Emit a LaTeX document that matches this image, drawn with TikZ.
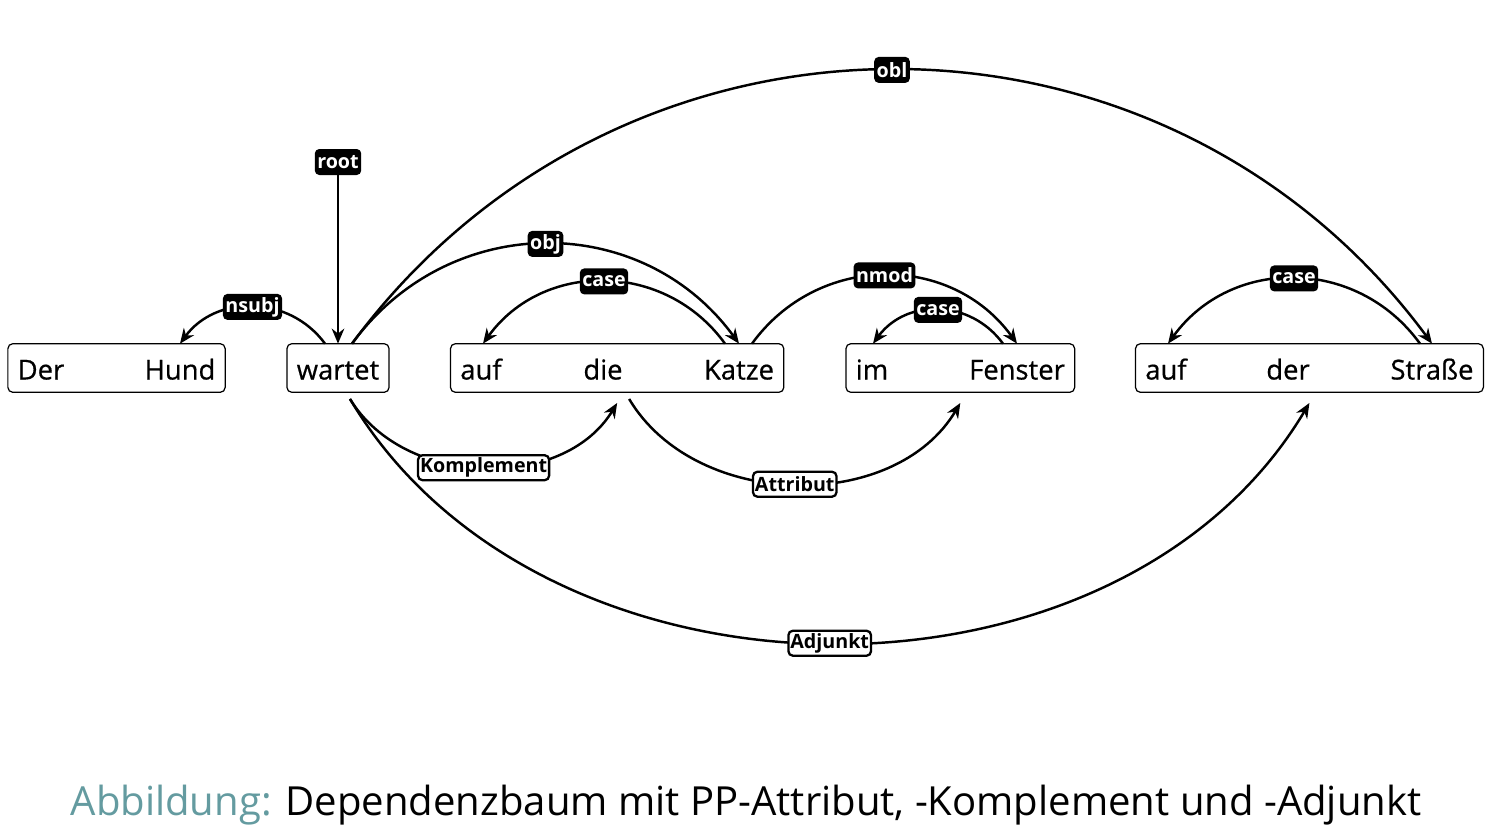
\documentclass[tikz,border=0pt]{standalone}
\usepackage{fontspec}
\setmainfont{Open Sans}
\newfontfamily\wordfont[FakeBold=0.6]{Open Sans}
\usetikzlibrary{arrows.meta, positioning, fit, calc}
\definecolor{abbcol}{RGB}{100,155,160}

\begin{document}
\begin{tikzpicture}[
    x=0.02cm, y=-0.02cm,
    word/.style={minimum height=0.96cm, inner xsep=0.19cm, inner ysep=0pt, text height=0.46cm, text depth=0pt, font=\wordfont\fontsize{15.6}{18}\selectfont},
    phrase/.style={draw, line width=0.7pt, rounded corners=0.1cm, inner sep=0pt},
    dep/.style={-{Stealth[length=0.3cm, width=0.25cm]}, line width=1.4pt},
    rel/.style={fill=black, text=white, rounded corners=0.09cm, inner xsep=0.05cm, inner ysep=0pt, minimum height=0.52cm, font=\fontsize{11.2}{12}\selectfont\bfseries},
    fn/.style={fill=white, draw, line width=1.3pt, rounded corners=0.09cm, inner xsep=0.04cm, inner ysep=0pt, minimum height=0.5cm, font=\fontsize{11.2}{12}\selectfont\bfseries}
  ]
  \useasboundingbox (0,0) rectangle (1497,839);
  % Woerter
  \node[word] (der) at (41,368) {Der};
  \node[word] (hund) at (180,368) {Hund};
  \node[word] (wartet) at (338,368) {wartet};
  \node[word] (auf1) at (481,368) {auf};
  \node[word] (die) at (603,368) {die};
  \node[word] (katze) at (739,368) {Katze};
  \node[word] (im) at (872,368) {im};
  \node[word] (fenster) at (1017,368) {Fenster};
  \node[word] (auf2) at (1166,368) {auf};
  \node[word] (der2) at (1288,368) {der};
  \node[word] (strasse) at (1432,368) {Straße};
  % Phrasen
  \node[phrase, fit=(der)(hund)] (np) {};
  \node[phrase, fit=(wartet)] (vp) {};
  \node[phrase, fit=(auf1)(katze)] (ppa) {};
  \node[phrase, fit=(im)(fenster)] (ppb) {};
  \node[phrase, fit=(auf2)(strasse)] (ppc) {};
  % Dependenzen oben
  \node[rel] (root) at (338,162) {root};
  \draw[dep] (root) -- (wartet.north);
  \draw[dep] ($(wartet.north)+(-13,0)$) .. controls +(-36,-49) and +(36,-49) .. (hund.north)
    node[pos=0.5, rel]{nsubj};
  \draw[dep] ($(wartet.north)+(14,0)$) .. controls +(97,-133) and +(-97,-133) .. (katze.north)
    node[pos=0.5, rel]{obj};
  \draw[dep] ($(wartet.north)+(14,0)$) .. controls +(270,-365) and +(-270,-365) .. (strasse.north)
    node[pos=0.5, rel]{obl};
  \draw[dep] ($(katze.north)+(-14,0)$) .. controls +(-60,-83) and +(60,-83) .. ($(auf1.north)+(2,0)$)
    node[pos=0.5, rel]{case};
  \draw[dep] ($(katze.north)+(13,0)$) .. controls +(66,-91) and +(-66,-91) .. (fenster.north)
    node[pos=0.5, rel]{nmod};
  \draw[dep] ($(fenster.north)+(-14,0)$) .. controls +(-33,-45) and +(33,-45) .. ($(im.north)+(1,0)$)
    node[pos=0.5, rel]{case};
  \draw[dep] ($(strasse.north)+(-12,0)$) .. controls +(-63,-87) and +(63,-87) .. ($(auf2.north)+(2,0)$)
    node[pos=0.5, rel]{case};
  % Funktionen unten
  \draw[dep] ($(vp.south)+(12,6)$) .. controls +(54,89) and +(-54,89) .. ($(ppa.south)+(0,10)$)
    node[pos=0.5, fn]{Komplement};
  \draw[dep] ($(ppa.south)+(12,6)$) .. controls +(66,111) and +(-66,111) .. ($(ppb.south)+(0,10)$)
    node[pos=0.5, fn]{Attribut};
  \draw[dep] ($(vp.south)+(12,6)$) .. controls +(192,323) and +(-192,323) .. ($(ppc.south)+(0,10)$)
    node[pos=0.5, fn]{Adjunkt};
  % Bildunterschrift
  \node[anchor=base, font=\fontsize{22.8}{27}\selectfont] (caption) at (746,815)
    {\textcolor{abbcol}{Abbildung:} Dependenzbaum mit PP-Attribut, -Komplement und -Adjunkt};
\end{tikzpicture}
\end{document}
